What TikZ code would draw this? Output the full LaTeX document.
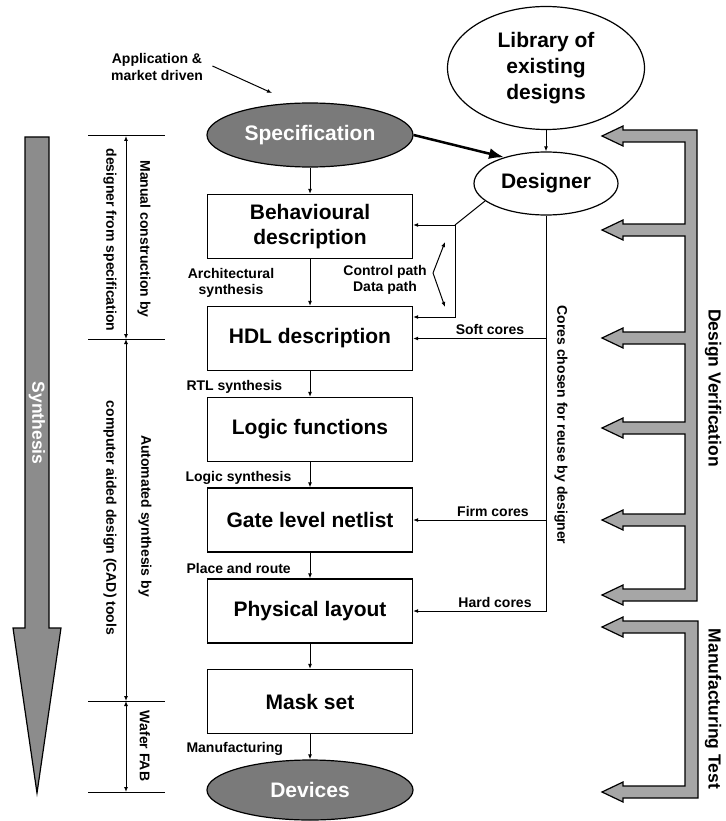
\documentclass[tikz,border=0pt]{standalone}
\usepackage{fontspec}
\setmainfont{Liberation Sans}
\usetikzlibrary{shapes.geometric,arrows.meta}
\begin{document}
\begin{tikzpicture}[x=1pt,y=-1pt,
  big/.style={font=\fontsize{21}{25}\selectfont\bfseries},
  small/.style={font=\fontsize{14}{16.5}\selectfont\bfseries},
  side/.style={font=\fontsize{17.5}{20}\selectfont\bfseries},
  stage/.style={draw, line width=1.2pt, minimum width=205pt, minimum height=64pt,
    inner sep=0pt, align=center, big},
  oval/.style={draw, ellipse, line width=1.2pt, inner sep=0pt, align=center, big},
  darkoval/.style={oval, fill=black!52, text=white},
  flow/.style={line width=1pt, -{Latex[length=5pt,width=4pt]}},
  span/.style={line width=1pt, {Latex[length=5pt,width=4pt]}-{Latex[length=5pt,width=4pt]}},
  blockarrow/.style={draw, line width=1.2pt, line join=miter},
  vtext/.style={small, rotate=-90, inner sep=0pt},
]
\useasboundingbox (0,0) rectangle (725,821);

% ---------- main flow ----------
\node[darkoval, minimum width=206pt, minimum height=64pt] (spec) at (310,135) {Specification};
\node[oval, minimum width=197pt, minimum height=123pt,
      font=\fontsize{21}{26}\selectfont\bfseries] (lib) at (546,68) {Library of\\existing\\designs};
\node[oval, minimum width=144pt, minimum height=63pt] (designer) at (546,183.5) {Designer};

\node[stage] (behav) at (310,226.5) {Behavioural\\description};
\node[stage] (hdl)   at (310,338.5) {HDL description};
\node[stage] (logic) at (310,429.5) {Logic functions};
\node[stage] (gate)  at (310,520)   {Gate level netlist};
\node[stage] (phys)  at (310,611)   {Physical layout};
\node[stage] (mask)  at (310,701.5) {Mask set};
\node[darkoval, minimum width=206pt, minimum height=60pt] (dev) at (310,790) {Devices};

\draw[flow] (spec) -- (behav);
\draw[flow] (behav) -- (hdl);
\draw[flow] (hdl) -- (logic);
\draw[flow] (logic) -- (gate);
\draw[flow] (gate) -- (phys);
\draw[flow] (phys) -- (mask);
\draw[flow] (mask) -- (dev);
\draw[flow] (lib) -- (designer);
\draw[line width=2.5pt, -{Latex[length=15pt,width=11pt]}] (spec.east) -- (designer.148);

% step labels
\node[small, align=center] (larch) at (231,283) {Architectural\\synthesis};
\node[small, anchor=west] (lrtl)   at (183,387) {RTL synthesis};
\node[small, anchor=west] (llogic) at (182,478) {Logic synthesis};
\node[small, anchor=west] (lpar)   at (183,568) {Place and route};
\node[small, anchor=west] (lman)   at (183,749) {Manufacturing};

% designer to behavioural / HDL
\coordinate (dj) at (455,225);
\draw[line width=1pt] (designer.196) -- (dj);
\draw[flow] (dj) -- (behav.east |- dj);
\draw[flow] (dj) |- ([yshift=21.5pt]hdl.east);

% control / data path
\coordinate (cv) at (433,273);
\coordinate (cu) at (445,242);
\coordinate (cd) at (445,307);
\draw[flow] (cv) -- (cu);
\draw[flow] (cv) -- (cd);
\node[small, align=center] (cpath) at (385,280) {Control path\\Data path};

% reused cores
\draw[flow] (designer.south) |- (phys.east);
\draw[flow] (designer.south |- hdl.east) -- (hdl.east);
\draw[flow] (designer.south |- gate.east) -- (gate.east);
\node[small] (lsoft) at (490,329) {Soft cores};
\node[small] (lfirm) at (493,511) {Firm cores};
\node[small] (lhard) at (495,602) {Hard cores};
\node[vtext] (lcores) at (561,425) {Cores chosen for reuse by designer};

% market input
\node[small, align=center] (app) at (157,67) {Application \&\\market driven};
\coordinate (append) at (272,93);
\draw[flow] ([xshift=6pt,yshift=1pt]app.east) -- (append);

% ---------- verification and test arrows ----------
\draw[blockarrow, fill=black!35]
  (697,130) -- (623,130) -- (623,126) -- (602,136) -- (623,146) -- (623,142) -- (685,142)
  -- (685,224) -- (623,224) -- (623,220) -- (602,230) -- (623,240) -- (623,236) -- (685,236)
  -- (685,332) -- (623,332) -- (623,328) -- (602,338) -- (623,348) -- (623,344) -- (685,344)
  -- (685,422) -- (623,422) -- (623,418) -- (602,428) -- (623,438) -- (623,434) -- (685,434)
  -- (685,514) -- (623,514) -- (623,510) -- (602,520) -- (623,530) -- (623,526) -- (685,526)
  -- (685,589) -- (623,589) -- (623,585) -- (602,595) -- (623,605) -- (623,601) -- (697,601)
  -- cycle;
\draw[blockarrow, fill=black!35]
  (698,621) -- (623,621) -- (623,617) -- (602,627) -- (623,637) -- (623,633) -- (685,633)
  -- (685,786) -- (623,786) -- (623,782) -- (602,792) -- (623,802) -- (623,798) -- (698,798)
  -- cycle;
\node[side, rotate=-90] (ldv) at (713,388) {Design Verification};
\node[side, rotate=-90] (lmt) at (713,709) {Manufacturing Test};

% ---------- synthesis arrow ----------
\draw[blockarrow, fill=black!45]
  (25,137) -- (49,137) -- (49,628) -- (61,628) -- (37,793) -- (13,628) -- (25,628) -- cycle;
\node[side, rotate=-90, text=white] (lsyn) at (37,423) {Synthesis};

% ---------- phase brackets ----------
\coordinate (b1) at (126,136);
\coordinate (b2) at (126,339);
\coordinate (b3) at (126,701);
\coordinate (b4) at (126,792);
\foreach \b in {b1,b2,b3,b4}
  \draw[line width=1pt] ([xshift=-38pt]\b) -- ([xshift=39pt]\b);
\draw[span] (b1) -- (b2);
\draw[span] (b2) -- (b3);
\draw[span] (b3) -- (b4);
\node[vtext] (lman1) at (144,239) {Manual construction by};
\node[vtext] (lman2) at (110,240) {designer from specification};
\node[vtext] (lauto1) at (145,516) {Automated synthesis by};
\node[vtext] (lauto2) at (110,518) {computer aided design (CAD) tools};
\node[vtext] (lfab) at (145,746) {Wafer FAB};
\end{tikzpicture}
\end{document}
